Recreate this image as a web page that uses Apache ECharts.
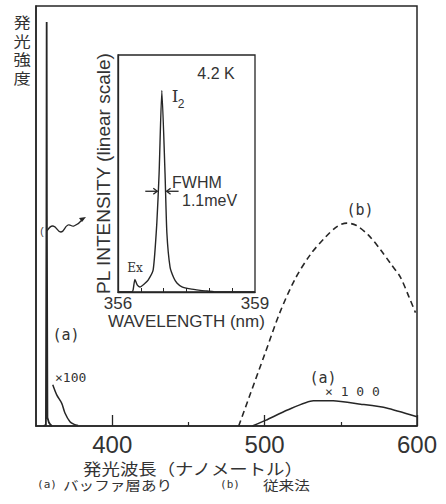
<!DOCTYPE html>
<html>
<head>
<meta charset="utf-8">
<script src="https://cdn.jsdelivr.net/npm/echarts@6/dist/echarts.min.js"></script>
<style>
  html, body { margin: 0; padding: 0; background: #fff; }
  #chart { width: 446px; height: 504px; }
</style>
</head>
<body>
<div id="chart"></div>
<script>
  // main axis (nm)
  const mainLabels = [400, 500, 600];
  const mainMinorTicks = [450, 550];
  // (a) buffer layer: sharp I2 line near 357 nm
  const spikeA = [[355, 0], [356.5, 0.3], [356.85, 50], [357, 96.2], [357.15, 50], [357.5, 2], [358.5, 0.8], [359.5, 0.3], [360.5, 0]];
  // (a) x100 tail right of the line
  const tailA100 = [[361, 9.8], [363.6, 7.4], [366.9, 5.4], [369, 3.1], [372.3, 1.0], [375, 0.4], [377.6, 0.1]];
  // (a) x100 broad band
  const bandA100 = [[492, 0], [501, 1.4], [515, 3.8], [532, 6.0], [545, 6.0], [563, 5.2], [580, 4.3], [600, 2.2]];
  // (b) conventional method
  const bandB = [[483, 0], [490, 7], [500, 17], [510, 27], [520, 35], [530, 40.8], [540, 45], [548, 47.6], [554, 48.3],
                 [560, 47.8], [568, 45.5], [576, 42], [583, 38.5], [589, 35.5], [595, 30.5], [599, 27]];
  // inset, 4.2K PL spectrum
  const insetLabels = [356, 359];
  const insetTicks = [356.5, 357, 357.5, 358, 358.5];
  const insetPL = [[356, 0], [356.3, 0], [356.33, 0.8], [356.37, 5.3], [356.42, 3], [356.48, 2.1], [356.58, 3.5], [356.66, 5],
                   [356.77, 9.3], [356.85, 29], [356.9, 50], [356.96, 85], [357.03, 50], [357.07, 25], [357.14, 10.5],
                   [357.22, 6], [357.29, 3.8], [357.4, 2.2], [357.58, 1.3], [357.8, 0.7], [357.95, 0.4], [358.1, 0.1], [359, 0]];
  const fwhmLevel = 42.5;
  const fwhmEdges = [356.882, 357.042];
  const yTitle = ['発', '光', '強', '度'];

  const ink = '#262626';
  const mono = 'DejaVu Sans Mono';
  const sans = 'Liberation Sans';
  const jp = 'Noto Sans CJK JP';

  let chart = echarts.init(document.getElementById('chart'), null, { renderer: 'svg' });

  function lineSeries(data, xi, yi, opts) {
    return Object.assign({
      type: 'line',
      data: data,
      xAxisIndex: xi,
      yAxisIndex: yi,
      symbol: 'none',
      animation: false,
      silent: true,
      lineStyle: { color: ink, width: 1.5 }
    }, opts || {});
  }

  let options = {
    backgroundColor: '#fff',
    animation: false,
    grid: [
      { left: 36, right: 29, top: 6, bottom: 78, show: true, borderColor: ink, borderWidth: 1.5, backgroundColor: 'transparent' },
      { left: 118, top: 55, width: 137, height: 237, show: true, borderColor: ink, borderWidth: 1.3, backgroundColor: '#fff' }
    ],
    xAxis: [
      {
        gridIndex: 0, type: 'value', min: 350, max: 600, position: 'bottom',
        axisLine: { lineStyle: { color: ink, width: 1.5 } },
        axisTick: { inside: true, length: 11, customValues: mainLabels, lineStyle: { color: ink, width: 1.3 } },
        axisLabel: { customValues: mainLabels, color: '#333', fontSize: 24, fontFamily: sans, margin: 6 },
        splitLine: { show: false }
      },
      {
        gridIndex: 0, type: 'value', min: 350, max: 600, position: 'bottom',
        axisLine: { show: false },
        axisTick: { inside: true, length: 4, customValues: mainMinorTicks, lineStyle: { color: ink, width: 1.2 } },
        axisLabel: { show: false },
        splitLine: { show: false }
      },
      {
        gridIndex: 1, type: 'value', min: 356, max: 359,
        axisLine: { lineStyle: { color: ink, width: 1.3 } },
        axisTick: { inside: true, length: 4, customValues: insetTicks, lineStyle: { color: ink } },
        axisLabel: { customValues: insetLabels, color: '#333', fontSize: 17, fontFamily: sans, margin: 3 },
        splitLine: { show: false },
        name: 'WAVELENGTH (nm)', nameLocation: 'middle', nameGap: 19,
        nameTextStyle: { color: '#333', fontSize: 17, fontFamily: sans }
      }
    ],
    yAxis: [
      {
        gridIndex: 0, type: 'value', min: 0, max: 100,
        axisLine: { show: true, lineStyle: { color: ink, width: 1.5 } },
        axisTick: { show: false }, axisLabel: { show: false }, splitLine: { show: false }
      },
      {
        gridIndex: 1, type: 'value', min: 0, max: 100,
        axisLine: { show: true, lineStyle: { color: ink, width: 1.3 } },
        axisTick: { show: false }, axisLabel: { show: false }, splitLine: { show: false },
        name: 'PL INTENSITY (linear scale)', nameLocation: 'middle', nameGap: 5,
        nameTextStyle: { color: '#333', fontSize: 19, fontFamily: sans }
      }
    ],
    series: [
      lineSeries(spikeA, 0, 0, { lineStyle: { color: ink, width: 1.8 } }),
      lineSeries(tailA100, 0, 0, { smooth: 0.3 }),
      lineSeries(bandA100, 0, 0, { smooth: 0.2 }),
      lineSeries(bandB, 0, 0, { smooth: 0.3, lineStyle: { color: ink, width: 1.6, type: [6, 4] } }),
      lineSeries(insetPL, 2, 1, { smooth: 0.2, lineStyle: { color: ink, width: 1.4 } })
    ]
  };

  chart.setOption(options);

  function txt(text, x, y, size, family, align, extra, sx) {
    return {
      type: 'text', x: x, y: y, silent: true,
      scaleX: sx || 1,
      style: Object.assign({
        text: text, fill: '#333', fontSize: size, fontFamily: family,
        textAlign: align || 'left', textVerticalAlign: 'middle'
      }, extra || {})
    };
  }

  // FWHM arrows, placed from the inset scale
  let pl = chart.convertToPixel({ gridIndex: 1 }, [fwhmEdges[0], fwhmLevel]);
  let pr = chart.convertToPixel({ gridIndex: 1 }, [fwhmEdges[1], fwhmLevel]);
  let arrowStyle = { stroke: ink, lineWidth: 1.3, fill: 'none' };
  let fwhmArrows = [
    { type: 'line', silent: true, shape: { x1: pl[0] - 13, y1: pl[1], x2: pl[0] - 1, y2: pl[1] }, style: arrowStyle },
    { type: 'polyline', silent: true, shape: { points: [[pl[0] - 5, pl[1] - 3], [pl[0] - 1, pl[1]], [pl[0] - 5, pl[1] + 3]] }, style: arrowStyle },
    { type: 'line', silent: true, shape: { x1: pr[0] + 13, y1: pr[1], x2: pr[0] + 1, y2: pr[1] }, style: arrowStyle },
    { type: 'polyline', silent: true, shape: { points: [[pr[0] + 5, pr[1] - 3], [pr[0] + 1, pr[1]], [pr[0] + 5, pr[1] + 3]] }, style: arrowStyle }
  ];

  // vertical y title, one glyph per row
  let yTitleTexts = yTitle.map(function (ch, i) {
    return txt(ch, 22, 22 + i * 18.5, 15, jp, 'center', null, 1.15);
  });

  chart.setOption({
    graphic: yTitleTexts.concat([
      txt('発光波長（ナノメートル）', 193, 468, 16, jp, 'center', null, 1.15),
      txt('(a)', 47, 484, 11, mono, 'center'),
      txt('バッファ層あり', 63, 484, 13, jp, 'left', null, 1.2),
      txt('(b)', 230, 484, 11, mono, 'center'),
      txt('従来法', 263, 484, 13, jp, 'left', null, 1.2),
      // curve labels
      txt('(a)', 66, 335, 15, mono, 'center'),
      txt('×100', 55, 377, 13, mono, 'left'),
      txt('(a)', 323, 378, 15, mono, 'center'),
      txt('× 1 0 0', 325, 391, 13, mono, 'left'),
      txt('(b)', 360, 210, 15, mono, 'center'),
      // pointer from the line to the inset
      txt('(', 42, 231, 10, sans, 'center'),
      { type: 'polyline', silent: true, shape: { points: [[47, 231], [53, 226], [61, 232], [68, 225], [74, 226], [83, 219]], smooth: 0.5 }, style: arrowStyle },
      { type: 'polygon', silent: true, shape: { points: [[86, 217], [79, 218], [82, 222]] }, style: { fill: ink } },
      // inset labels
      txt('4.2 K', 216, 73, 16, sans, 'center'),
      txt('I', 175, 96, 17, 'DejaVu Serif', 'center'),
      txt('2', 181, 104, 12, sans, 'center'),
      txt('FWHM', 172, 182, 16, sans, 'left'),
      txt('1.1meV', 182, 200, 16, sans, 'left'),
      txt('Ex', 135, 268, 12, 'DejaVu Serif', 'center')
    ]).concat(fwhmArrows)
  });
</script>
</body>
</html>
